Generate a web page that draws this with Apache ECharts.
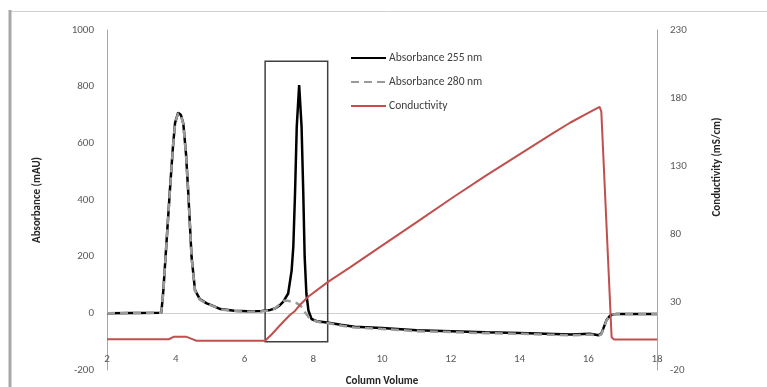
<!DOCTYPE html>
<html>
<head>
<meta charset="utf-8">
<script src="https://cdn.jsdelivr.net/npm/echarts@6.0.0/dist/echarts.min.js"></script>
<style>
  html, body { margin: 0; padding: 0; background: #fff; }
  #chart { width: 767px; height: 387px; }
</style>
</head>
<body>
<div id="chart"></div>
<script>
// chromatogram: absorbance (left axis) + conductivity (right axis) vs column volume
const abs255CV = [2, 3.58, 3.64, 3.72, 3.83, 3.92, 3.98, 4.07, 4.15, 4.22, 4.3, 4.36, 4.46, 4.56, 4.7, 4.9, 5.05, 5.3, 5.7, 6.1, 6.5, 6.75, 6.9, 7.03, 7.13, 7.27, 7.37, 7.42, 7.47, 7.52, 7.59, 7.66, 7.71, 7.75, 7.8, 7.86, 7.95, 8.1, 8.4, 8.8, 9.2, 10, 11, 12, 13, 14, 15, 15.5, 16.05, 16.3, 16.38, 16.44, 16.53, 16.62, 16.7, 16.82, 18];
const abs255 = [0, 2, 82, 230, 435, 590, 672, 708, 700, 670, 560, 435, 199, 82, 50, 35, 28, 15, 9, 7, 8, 12, 18, 29, 41, 70, 150, 235, 424, 659, 806, 659, 424, 200, 70, 10, -20, -28, -32, -40, -47, -52, -60, -63, -67, -69, -73, -75, -72, -77, -72, -53, -24, -10, -5, -2, -2];

const abs280CV = [2, 3.58, 3.64, 3.72, 3.83, 3.92, 3.98, 4.07, 4.15, 4.22, 4.3, 4.36, 4.46, 4.56, 4.7, 4.9, 5.05, 5.3, 5.7, 6.1, 6.5, 6.75, 6.9, 7.0, 7.13, 7.27, 7.4, 7.5, 7.6, 7.68, 7.78, 7.9, 8.0, 8.2, 8.5, 8.8, 9.2, 10, 11, 12, 13, 14, 15, 15.5, 16.05, 16.3, 16.38, 16.44, 16.53, 16.62, 16.7, 16.82, 18];
const abs280 = [0, 2, 80, 228, 432, 588, 670, 706, 698, 668, 558, 433, 197, 80, 49, 34, 27, 14, 8, 6, 7, 11, 18, 30, 44, 44, 40, 37, 30, 20, 0, -18, -25, -32, -36, -43, -50, -55, -63, -66, -70, -72, -76, -78, -75, -79, -74, -55, -25, -10, -5, -2, -2];

const condCV = [2, 3.8, 3.95, 4.3, 4.5, 4.6, 6.6, 6.8, 7.0, 7.13, 7.32, 7.45, 7.61, 7.86, 8.44, 9.07, 10, 11, 12.07, 13, 14, 15, 15.47, 16, 16.33, 16.38, 16.68, 16.75, 18];
const conductivity = [2.6, 2.6, 4.5, 4.5, 2.5, 1.5, 1.5, 6.5, 12, 15.5, 20.4, 23, 27.8, 34, 45, 55.5, 71.5, 88.5, 107, 122.5, 138.5, 154.5, 161.8, 169, 173.5, 170, 4, 2.5, 2.5];

// boxed region around the second peak
const boxCV = [6.6, 8.42];
const boxAbs = [-100, 890];

const xTicks = { min: 2, max: 18, interval: 2 };
const absTicks = { min: -200, max: 1000, interval: 200 };
const condTicks = { min: -20, max: 230, interval: 50 };
const xCrossAbs = -100; // horizontal axis crosses the absorbance axis here

const seriesNames = ["Absorbance 255 nm", "Absorbance 280 nm", "Conductivity"];

function zip(xs, ys) {
  return xs.map((x, i) => [x, ys[i]]);
}

const FONT = "Calibri, Carlito, 'Liberation Sans', Arial, sans-serif";
const gridBox = { left: 107, right: 110, top: 30, bottom: 17 };
const gridHeight = 387 - gridBox.top - gridBox.bottom;
const xOffset = -gridHeight * (xCrossAbs - absTicks.min) / (absTicks.max - absTicks.min);

const chart = echarts.init(document.getElementById("chart"), null, { renderer: "canvas" });

chart.setOption({
  animation: false,
  backgroundColor: "#fff",
  textStyle: { fontFamily: FONT },
  graphic: [
    { type: "line", shape: { x1: 10, y1: 11.5, x2: 767, y2: 11.5 }, style: { stroke: "#d0d0d0", lineWidth: 1 } },
    { type: "line", shape: { x1: 10, y1: 10, x2: 10, y2: 387 }, style: { stroke: "#a8a8a8", lineWidth: 3 } },
    {
      type: "text",
      x: 717,
      y: 167,
      rotation: Math.PI / 2,
      style: {
        text: "Conductivity (mS/cm)",
        font: "bold 11px " + FONT,
        fill: "#262626",
        align: "center",
        verticalAlign: "middle",
      },
    },
  ],
  legend: {
    orient: "vertical",
    left: 345,
    top: 47,
    itemWidth: 35,
    itemHeight: 12,
    itemGap: 12,
    itemStyle: { opacity: 0 },
    textStyle: { color: "#404040", fontSize: 11.5, fontFamily: FONT, padding: [0, 0, 0, -2] },
    data: seriesNames,
  },
  grid: { ...gridBox, containLabel: false, outerBoundsMode: "none" },
  xAxis: {
    type: "value",
    min: xTicks.min,
    max: xTicks.max,
    interval: xTicks.interval,
    offset: xOffset,
    name: "Column Volume",
    nameLocation: "middle",
    nameGap: 34,
    nameTextStyle: { color: "#262626", fontWeight: "bold", fontSize: 11, fontFamily: FONT },
    axisLine: { lineStyle: { color: "#cfcfcf", width: 1 } },
    axisTick: { show: false },
    splitLine: { show: false },
    axisLabel: { color: "#595959", fontSize: 11, margin: 12, fontFamily: FONT },
  },
  yAxis: [
    {
      type: "value",
      min: absTicks.min,
      max: absTicks.max,
      interval: absTicks.interval,
      name: "Absorbance (mAU)",
      nameLocation: "middle",
      nameRotate: 90,
      nameGap: 64,
      nameTextStyle: { color: "#262626", fontWeight: "bold", fontSize: 11, fontFamily: FONT },
      axisLine: { show: true, lineStyle: { color: "#a6a6a6", width: 1 } },
      axisTick: { show: false },
      splitLine: { show: false },
      axisLabel: { color: "#595959", fontSize: 11, margin: 13, fontFamily: FONT, formatter: (v) => String(v) },
    },
    {
      type: "value",
      position: "right",
      min: condTicks.min,
      max: condTicks.max,
      interval: condTicks.interval,
      axisLine: { show: true, lineStyle: { color: "#a6a6a6", width: 1 } },
      axisTick: { show: false },
      splitLine: { show: false },
      axisLabel: { color: "#595959", fontSize: 11, margin: 13, fontFamily: FONT, formatter: (v) => String(v) },
    },
  ],
  series: [
    {
      type: "line",
      name: seriesNames[0],
      yAxisIndex: 0,
      data: zip(abs255CV, abs255),
      showSymbol: false,
      symbol: "none",
      lineStyle: { color: "#000", width: 2.5 },
      itemStyle: { color: "#000" },
      markArea: {
        silent: true,
        itemStyle: { color: "rgba(0,0,0,0)", borderColor: "#404040", borderWidth: 1.5 },
        data: [[{ xAxis: boxCV[0], yAxis: boxAbs[0] }, { xAxis: boxCV[1], yAxis: boxAbs[1] }]],
      },
    },
    {
      type: "line",
      name: seriesNames[1],
      yAxisIndex: 0,
      data: zip(abs280CV, abs280),
      showSymbol: false,
      symbol: "none",
      lineStyle: { color: "#9a9a9a", width: 2.5, type: [8, 5] },
      itemStyle: { color: "#9a9a9a" },
    },
    {
      type: "line",
      name: seriesNames[2],
      yAxisIndex: 1,
      data: zip(condCV, conductivity),
      showSymbol: false,
      symbol: "none",
      lineStyle: { color: "#c0504d", width: 2 },
      itemStyle: { color: "#c0504d" },
    },
  ],
});
</script>
</body>
</html>
